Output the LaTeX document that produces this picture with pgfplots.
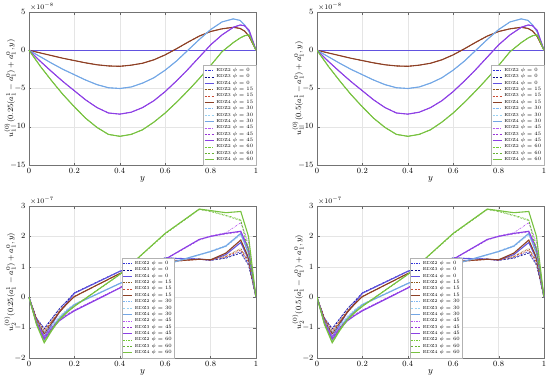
\documentclass[border=0pt]{standalone}
\usepackage{pgfplots}
\usepackage{pgfplotstable}
\pgfplotsset{compat=1.18}

\definecolor{cB2}{rgb}{0.20,0.20,0.85}
\definecolor{cB3}{rgb}{0.05,0.05,0.55}
\definecolor{cB4}{rgb}{0.38,0.32,0.88}
\definecolor{cR2}{rgb}{0.55,0.35,0.10}
\definecolor{cR3}{rgb}{0.80,0.30,0.20}
\definecolor{cR4}{rgb}{0.55,0.25,0.15}
\definecolor{cC2}{rgb}{0.50,0.72,0.95}
\definecolor{cC3}{rgb}{0.60,0.82,0.95}
\definecolor{cC4}{rgb}{0.45,0.65,0.90}
\definecolor{cM2}{rgb}{0.72,0.35,0.95}
\definecolor{cM3}{rgb}{0.60,0.20,0.85}
\definecolor{cM4}{rgb}{0.55,0.25,0.90}
\definecolor{cG2}{rgb}{0.45,0.80,0.20}
\definecolor{cG3}{rgb}{0.40,0.70,0.20}
\definecolor{cG4}{rgb}{0.47,0.76,0.25}

% u1, units of 1e-8 (EDZ2/3/4 practically coincide)
\pgfplotstableread{
y    p0  p15   p30   p45   p60
0    0   0     0     0     0
0.05 0  -0.35 -0.85 -1.45 -2.1
0.10 0  -0.70 -1.70 -2.80 -4.0
0.15 0  -1.05 -2.50 -4.10 -5.8
0.20 0  -1.35 -3.20 -5.30 -7.4
0.25 0  -1.65 -3.90 -6.50 -8.9
0.30 0  -1.90 -4.50 -7.50 -10.1
0.35 0  -2.05 -4.90 -8.20 -11.0
0.40 0  -2.10 -5.00 -8.35 -11.25
0.45 0  -1.95 -4.80 -8.10 -11.0
0.50 0  -1.70 -4.30 -7.50 -10.4
0.55 0  -1.25 -3.60 -6.60 -9.4
0.60 0  -0.60 -2.60 -5.40 -8.2
0.65 0   0.20 -1.40 -4.00 -6.8
0.70 0   1.05  0.00 -2.50 -5.3
0.75 0   1.85  1.40 -0.90 -3.7
0.80 0   2.45  2.70  0.70 -2.0
0.85 0   2.80  3.70  2.00 -0.2
0.90 0   3.00  4.10  3.00  1.0
0.93 0   2.85  3.90  3.30  1.6
0.95 0   2.50  3.30  3.20  1.9
0.97 0   1.80  2.40  2.60  2.0
1.00 0   0     0     0     0
}\toptab

% u2, units of 1e-7
\pgfplotstableread{
y b2 b3 b4 r2 r3 r4 c2 c3 c4 m2 m3 m4 g2 g3 g4
0 0 0 0 0 0 0 0 0 0 0 0 0 0 0 0
0.033 -0.68 -0.7 -0.8 -0.72 -0.7 -0.75 -0.8 -0.78 -0.85 -0.8 -0.82 -0.85 -0.85 -0.88 -0.9
0.067 -1.02 -1.05 -1.3 -1.15 -1.1 -1.2 -1.3 -1.15 -1.4 -1.3 -1.33 -1.38 -1.45 -1.48 -1.5
0.1 -0.7 -0.72 -0.9 -0.8 -0.78 -0.85 -0.95 -0.9 -1.0 -1.0 -1.0 -1.05 -1.05 -1.08 -1.1
0.133 -0.38 -0.4 -0.5 -0.47 -0.46 -0.5 -0.66 -0.63 -0.7 -0.74 -0.76 -0.78 -0.72 -0.74 -0.75
0.167 -0.12 -0.13 -0.18 -0.2 -0.2 -0.22 -0.42 -0.4 -0.45 -0.56 -0.58 -0.6 -0.48 -0.5 -0.5
0.2 0.15 0.14 0.13 0.03 0.02 0.02 -0.23 -0.22 -0.25 -0.42 -0.43 -0.45 -0.28 -0.3 -0.3
0.4 0.86 0.85 0.85 0.78 0.77 0.78 0.46 0.46 0.45 0.32 0.31 0.3 0.75 0.74 0.75
0.6 1.3 1.29 1.28 1.16 1.15 1.17 1.07 1.06 1.08 1.25 1.24 1.25 2.1 2.08 2.1
0.75 1.26 1.25 1.25 1.25 1.24 1.25 1.4 1.38 1.4 1.9 1.88 1.9 2.9 2.88 2.9
0.8 1.22 1.21 1.22 1.24 1.22 1.23 1.52 1.5 1.5 2.02 2.0 2.0 2.83 2.82 2.85
0.867 1.3 1.28 1.4 1.35 1.33 1.45 1.7 1.66 1.68 2.12 2.08 2.1 2.7 2.68 2.78
0.933 1.5 1.45 1.8 1.6 1.55 1.88 2.1 2.05 2.1 2.45 2.15 2.17 2.55 2.52 2.82
0.967 1.1 1.05 1.25 1.2 1.15 1.3 1.5 1.4 1.45 1.8 1.55 1.6 1.6 1.5 2.0
1 0 0 0 0 0 0 0 0 0 0 0 0 0 0 0
}\bottab

\pgfplotsset{
  e2/.style={dash pattern=on 2pt off 1pt on 0.5pt off 1pt, line width=0.6pt},
  e3/.style={dash pattern=on 2pt off 1.5pt, line width=0.6pt},
  e4/.style={solid, line width=1.1pt},
  panel/.style={
    scale only axis, width=227pt, height=153pt,
    clip mode=individual,
    xmin=0, xmax=1, xtick={0,0.2,...,1},
    xlabel={$y$}, xlabel style={yshift=4pt, font=\small},
    tick label style={font=\footnotesize},
    every axis y label/.style={at={(rel axis cs:0,0.5)}, rotate=90,
      anchor=center, yshift=19pt, font=\footnotesize},
    grid=major, major grid style={black!10},
    axis line style={black!55}, tick style={black!60},
    tick align=inside, major tick length=2.5pt,
    legend cell align=left,
    legend style={font=\fontsize{4.3}{4.6}\selectfont, inner sep=0.6pt,
      row sep=-2.6pt, draw=black!30, fill=white},
    legend image code/.code={\draw[##1] (0pt,0pt) -- (9pt,0pt);},
    every axis plot/.append style={no markers},
  },
  toppanel/.style={panel, ymin=-15, ymax=5, ytick={-15,-10,...,5},
    legend style={at={(1,0)}, anchor=south east}},
  botpanel/.style={panel, ymin=-2, ymax=3, ytick={-2,-1,...,3},
    legend style={at={(0.41,0)}, anchor=south west}},
}

\newcommand{\topplots}{%
  \addplot[cB2,e2] table[y=p0]{\toptab};  \addlegendentry{EDZ2 $\phi=0$}
  \addplot[cB3,e3] table[y=p0]{\toptab};  \addlegendentry{EDZ3 $\phi=0$}
  \addplot[cB4,e4] table[y=p0]{\toptab};  \addlegendentry{EDZ4 $\phi=0$}
  \addplot[cR2,e2] table[y=p15]{\toptab}; \addlegendentry{EDZ2 $\phi=15$}
  \addplot[cR3,e3] table[y=p15]{\toptab}; \addlegendentry{EDZ3 $\phi=15$}
  \addplot[cR4,e4] table[y=p15]{\toptab}; \addlegendentry{EDZ4 $\phi=15$}
  \addplot[cC2,e2] table[y=p30]{\toptab}; \addlegendentry{EDZ2 $\phi=30$}
  \addplot[cC3,e3] table[y=p30]{\toptab}; \addlegendentry{EDZ3 $\phi=30$}
  \addplot[cC4,e4] table[y=p30]{\toptab}; \addlegendentry{EDZ4 $\phi=30$}
  \addplot[cM2,e2] table[y=p45]{\toptab}; \addlegendentry{EDZ2 $\phi=45$}
  \addplot[cM3,e3] table[y=p45]{\toptab}; \addlegendentry{EDZ3 $\phi=45$}
  \addplot[cM4,e4] table[y=p45]{\toptab}; \addlegendentry{EDZ4 $\phi=45$}
  \addplot[cG2,e2] table[y=p60]{\toptab}; \addlegendentry{EDZ2 $\phi=60$}
  \addplot[cG3,e3] table[y=p60]{\toptab}; \addlegendentry{EDZ3 $\phi=60$}
  \addplot[cG4,e4] table[y=p60]{\toptab}; \addlegendentry{EDZ4 $\phi=60$}
  \node[anchor=south west, font=\scriptsize, inner sep=1pt] at (rel axis cs:0,1) {$\times10^{-8}$};
}

\newcommand{\botplots}{%
  \addplot[cB2,e2] table[y=b2]{\bottab}; \addlegendentry{EDZ2 $\phi=0$}
  \addplot[cB3,e3] table[y=b3]{\bottab}; \addlegendentry{EDZ3 $\phi=0$}
  \addplot[cB4,e4] table[y=b4]{\bottab}; \addlegendentry{EDZ4 $\phi=0$}
  \addplot[cR2,e2] table[y=r2]{\bottab}; \addlegendentry{EDZ2 $\phi=15$}
  \addplot[cR3,e3] table[y=r3]{\bottab}; \addlegendentry{EDZ3 $\phi=15$}
  \addplot[cR4,e4] table[y=r4]{\bottab}; \addlegendentry{EDZ4 $\phi=15$}
  \addplot[cC2,e2] table[y=c2]{\bottab}; \addlegendentry{EDZ2 $\phi=30$}
  \addplot[cC3,e3] table[y=c3]{\bottab}; \addlegendentry{EDZ3 $\phi=30$}
  \addplot[cC4,e4] table[y=c4]{\bottab}; \addlegendentry{EDZ4 $\phi=30$}
  \addplot[cM2,e2] table[y=m2]{\bottab}; \addlegendentry{EDZ2 $\phi=45$}
  \addplot[cM3,e3] table[y=m3]{\bottab}; \addlegendentry{EDZ3 $\phi=45$}
  \addplot[cM4,e4] table[y=m4]{\bottab}; \addlegendentry{EDZ4 $\phi=45$}
  \addplot[cG2,e2] table[y=g2]{\bottab}; \addlegendentry{EDZ2 $\phi=60$}
  \addplot[cG3,e3] table[y=g3]{\bottab}; \addlegendentry{EDZ3 $\phi=60$}
  \addplot[cG4,e4] table[y=g4]{\bottab}; \addlegendentry{EDZ4 $\phi=60$}
  \node[anchor=south west, font=\scriptsize, inner sep=1pt] at (rel axis cs:0,1) {$\times10^{-7}$};
}

\begin{document}
\begin{tikzpicture}[x=1pt,y=1pt]
\path[use as bounding box] (0,0) rectangle (550,384);

\begin{axis}[toppanel, at={(29pt,219pt)}, anchor=south west,
  ylabel={$u_1^{(0)}(0.25(a_1^1-a_1^0)+a_1^0,y)$}]
\topplots
\end{axis}

\begin{axis}[toppanel, at={(317pt,219pt)}, anchor=south west,
  ylabel={$u_1^{(0)}(0.5(a_1^1-a_1^0)+a_1^0,y)$}]
\topplots
\end{axis}

\begin{axis}[botpanel, at={(29pt,26pt)}, anchor=south west, height=152pt,
  ylabel={$u_2^{(0)}(0.25(a_1^1-a_1^0)+a_1^0,y)$}]
\botplots
\end{axis}

\begin{axis}[botpanel, at={(317pt,26pt)}, anchor=south west, height=152pt,
  ylabel={$u_2^{(0)}(0.5(a_1^1-a_1^0)+a_1^0,y)$}]
\botplots
\end{axis}
\end{tikzpicture}
\end{document}
